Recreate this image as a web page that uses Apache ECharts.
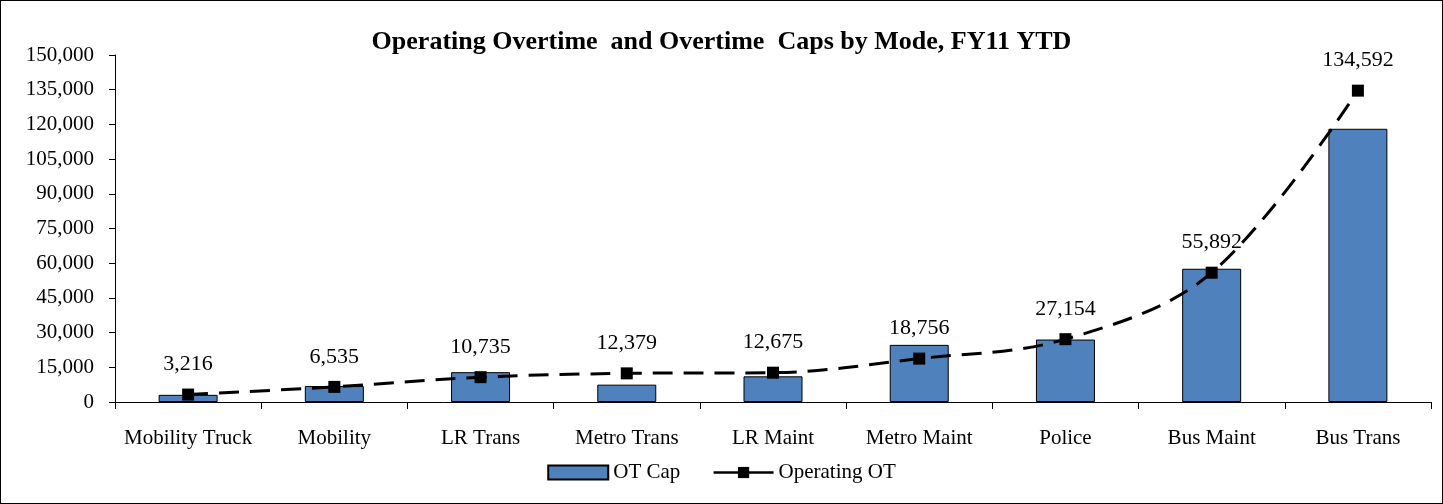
<!DOCTYPE html>
<html>
<head>
<meta charset="utf-8">
<script src="https://cdn.jsdelivr.net/npm/echarts@6/dist/echarts.min.js"></script>
<style>
  html, body { margin: 0; padding: 0; background: #fff; }
  #chart {
    width: 1443px;
    height: 504px;
    box-sizing: border-box;
    border: 1px solid #000;
  }
</style>
</head>
<body>
<div id="chart"></div>
<script>
const categories = ['Mobility Truck', 'Mobility', 'LR Trans', 'Metro Trans', 'LR Maint', 'Metro Maint', 'Police', 'Bus Maint', 'Bus Trans']
const otCap = [3100, 6900, 12900, 7500, 11100, 24700, 27000, 57600, 118100]
const operatingOT = [3216, 6535, 10735, 12379, 12675, 18756, 27154, 55892, 134592]
const yTicks = [0, 15000, 30000, 45000, 60000, 75000, 90000, 105000, 120000, 135000, 150000]

const serif = '"Liberation Serif", "Times New Roman", serif'
const fmt = v => Number(v).toLocaleString('en-US')

const chart = echarts.init(document.getElementById('chart'))

const option = {
  animation: false,
  textStyle: { fontFamily: serif, color: '#000' },
  title: {
    text: 'Operating Overtime  and Overtime  Caps by Mode, FY11 YTD',
    left: 'center',
    top: 23,
    textStyle: {
      fontFamily: serif,
      fontSize: 26,
      fontWeight: 'bold',
      color: '#000'
    }
  },
  grid: {
    left: 114,
    right: 11,
    top: 54,
    bottom: 101
  },
  legend: {
    bottom: 15,
    left: 'center',
    itemWidth: 60,
    itemHeight: 14,
    itemGap: 32,
    textStyle: { fontFamily: serif, fontSize: 21, color: '#000' },
    data: [
      { name: 'OT Cap', icon: 'rect' },
      { name: 'Operating OT', lineStyle: { type: 'solid', width: 2.5 } }
    ]
  },
  xAxis: {
    type: 'category',
    data: categories,
    axisLine: { lineStyle: { color: '#000', width: 1 } },
    axisTick: { show: true, length: 7, lineStyle: { color: '#000' } },
    axisLabel: {
      color: '#000',
      fontFamily: serif,
      fontSize: 21,
      margin: 26,
      interval: 0
    }
  },
  yAxis: {
    type: 'value',
    min: 0,
    max: 150000,
    interval: 15000,
    axisLine: { show: true, lineStyle: { color: '#000', width: 1 } },
    axisTick: { show: true, length: 6, lineStyle: { color: '#000' } },
    splitLine: { show: false },
    axisLabel: {
      color: '#000',
      fontFamily: serif,
      fontSize: 21,
      margin: 21,
      formatter: v => (yTicks.includes(v) ? fmt(v) : '')
    }
  },
  series: [
    {
      name: 'OT Cap',
      type: 'bar',
      data: otCap,
      barWidth: 59,
      itemStyle: {
        color: '#4F81BD',
        borderColor: '#000',
        borderWidth: 1
      }
    },
    {
      name: 'Operating OT',
      type: 'line',
      data: operatingOT,
      smooth: 0.35,
      symbol: 'rect',
      symbolSize: 12,
      itemStyle: { color: '#000' },
      lineStyle: {
        color: '#000',
        width: 3,
        type: [20, 11]
      },
      label: {
        show: true,
        position: 'top',
        distance: 13,
        fontFamily: serif,
        fontSize: 22,
        color: '#000',
        formatter: p => fmt(p.value)
      },
      z: 3
    }
  ]
}

chart.setOption(option)
</script>
</body>
</html>
